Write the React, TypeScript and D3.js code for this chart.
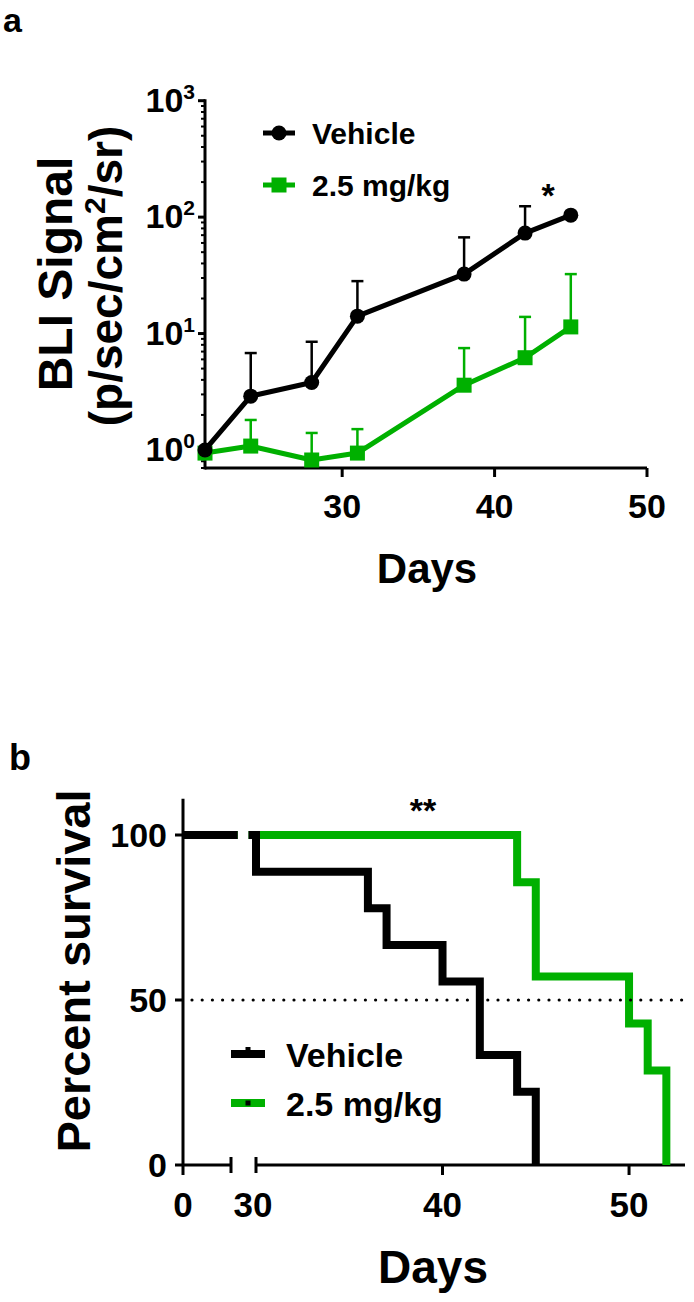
import React from 'react'
import * as d3 from 'd3'

// panel a: BLI signal over time (mean, upper error end)
const bliDays = [21, 24, 28, 31, 38, 42, 45]
const vehicleBli = [1.0, 2.9, 3.8, 14.1, 32.4, 72.9, 104]
const vehicleBliErr = [1.0, 6.8, 8.5, 28.2, 67, 124, 104]
const drugBli = [0.94, 1.08, 0.82, 0.94, 3.6, 6.2, 11.4]
const drugBliErr = [0.94, 1.81, 1.4, 1.51, 7.5, 13.9, 32.4]
const bliTicksX = [30, 40, 50]
const bliTicksY = [1, 10, 100, 1000]

// panel b: Kaplan-Meier survival
const survDaysVehicle = [0, 30, 36, 37, 40, 42, 44, 45]
const survVehicle = [100, 88.9, 77.8, 66.7, 55.6, 33.3, 22.2, 0]
const survDaysDrug = [0, 44, 45, 50, 51, 52]
const survDrug = [100, 85.7, 57.1, 42.9, 28.6, 0]
const survTicksY = [0, 50, 100]
const survTicksX = [40, 50]

const legendLabels = ['Vehicle', '2.5 mg/kg']

const BLACK = '#000000'
const GREEN = '#00b000'
const FONT = "'Liberation Sans', Arial, Helvetica, sans-serif"

function drawChart(svgRef: React.RefObject<SVGSVGElement>) {
  const svg = d3.select(svgRef.current)
    .attr('width', 694)
    .attr('height', 1302)
    .attr('font-family', FONT)
    .attr('font-weight', 'bold')
  svg.selectAll('*').remove()

  svg.append('text').attr('x', 3).attr('y', 32).attr('font-size', 34).text('a')
  svg.append('text').attr('x', 9).attr('y', 770).attr('font-size', 36).text('b')

  // ---------- panel a ----------
  const xA = d3.scaleLinear().domain([21, 50]).range([205, 647])
  const yA = d3.scaleLog().domain([0.7, 1000]).range([468, 100.7])
  const a = svg.append('g')

  const axisA = a.append('g').attr('stroke', BLACK).attr('stroke-width', 3)
  axisA.append('line')
    .attr('x1', xA(21)).attr('x2', xA(21))
    .attr('y1', yA(1000) - 1.5).attr('y2', yA(0.7) + 1.5)
  axisA.append('line')
    .attr('x1', xA(21)).attr('x2', xA(50))
    .attr('y1', yA(0.7)).attr('y2', yA(0.7))

  const minor: number[] = []
  ;[-1, 0, 1, 2].forEach(k => d3.range(2, 10).forEach(m => {
    const v = m * Math.pow(10, k)
    if (v > 0.7 && v < 1000) minor.push(v)
  }))
  axisA.selectAll('line.minor').data(minor).join('line')
    .attr('class', 'minor')
    .attr('stroke-width', 2)
    .attr('x1', xA(21) - 4).attr('x2', xA(21))
    .attr('y1', d => yA(d)).attr('y2', d => yA(d))
  axisA.selectAll('line.major').data(bliTicksY).join('line')
    .attr('class', 'major')
    .attr('x1', xA(21) - 7).attr('x2', xA(21))
    .attr('y1', d => yA(d)).attr('y2', d => yA(d))
  axisA.selectAll('line.xt').data(bliTicksX).join('line')
    .attr('class', 'xt')
    .attr('x1', d => xA(d)).attr('x2', d => xA(d))
    .attr('y1', yA(0.7)).attr('y2', yA(0.7) + 9)

  const yLab = a.selectAll('text.yl').data(bliTicksY).join('text')
    .attr('class', 'yl')
    .attr('x', xA(21) - 10)
    .attr('y', d => yA(d) + 11)
    .attr('text-anchor', 'end')
    .attr('font-size', 34)
  yLab.append('tspan').text('10')
  yLab.append('tspan').attr('font-size', 21).attr('dy', -13).text(d => String(Math.round(Math.log10(d))))

  a.selectAll('text.xl').data(bliTicksX).join('text')
    .attr('class', 'xl')
    .attr('x', d => xA(d))
    .attr('y', 518)
    .attr('text-anchor', 'middle')
    .attr('font-size', 34)
    .text(d => d)

  a.append('text').attr('x', 427).attr('y', 583).attr('text-anchor', 'middle')
    .attr('font-size', 42).text('Days')

  a.append('text').attr('transform', 'translate(72,274) rotate(-90)')
    .attr('text-anchor', 'middle').attr('font-size', 48).text('BLI Signal')
  const unit = a.append('text').attr('transform', 'translate(122,276) rotate(-90)')
    .attr('text-anchor', 'middle').attr('font-size', 46)
  unit.append('tspan').text('(p/sec/cm')
  unit.append('tspan').attr('font-size', 30).attr('dy', -17).text('2')
  unit.append('tspan').attr('dy', 17).text('/sr)')

  const series = [
    { vals: drugBli, err: drugBliErr, color: GREEN, shape: 'square' },
    { vals: vehicleBli, err: vehicleBliErr, color: BLACK, shape: 'circle' },
  ]
  const line = d3.line<number>().x((_, i) => xA(bliDays[i])).y(d => yA(d))

  series.forEach(s => {
    const g = a.append('g')
    const idx = d3.range(bliDays.length).filter(i => s.err[i] > s.vals[i] * 1.05)
    g.selectAll('line.eb').data(idx).join('line')
      .attr('stroke', s.color).attr('stroke-width', 2.5)
      .attr('x1', i => xA(bliDays[i])).attr('x2', i => xA(bliDays[i]))
      .attr('y1', i => yA(s.vals[i])).attr('y2', i => yA(s.err[i]))
    g.selectAll('line.cap').data(idx).join('line')
      .attr('stroke', s.color).attr('stroke-width', 2.5)
      .attr('x1', i => xA(bliDays[i]) - 6).attr('x2', i => xA(bliDays[i]) + 6)
      .attr('y1', i => yA(s.err[i])).attr('y2', i => yA(s.err[i]))
    g.append('path')
      .attr('d', line(s.vals))
      .attr('fill', 'none').attr('stroke', s.color).attr('stroke-width', 5)
      .attr('stroke-linejoin', 'round')
    if (s.shape === 'circle') {
      g.selectAll('circle').data(s.vals).join('circle')
        .attr('cx', (_, i) => xA(bliDays[i])).attr('cy', d => yA(d)).attr('r', 7.5)
        .attr('fill', s.color)
    } else {
      g.selectAll('rect').data(s.vals).join('rect')
        .attr('x', (_, i) => xA(bliDays[i]) - 7.5).attr('y', d => yA(d) - 7.5)
        .attr('width', 15).attr('height', 15)
        .attr('fill', s.color)
    }
  })

  // legend a
  const legA = a.append('g')
  ;[{ c: BLACK, y: 133, shape: 'circle' }, { c: GREEN, y: 185, shape: 'square' }].forEach((l, i) => {
    legA.append('line').attr('x1', 263).attr('x2', 295).attr('y1', l.y).attr('y2', l.y)
      .attr('stroke', l.c).attr('stroke-width', 5)
    if (l.shape === 'circle') legA.append('circle').attr('cx', 279).attr('cy', l.y).attr('r', 7.5).attr('fill', l.c)
    else legA.append('rect').attr('x', 271.5).attr('y', l.y - 7.5).attr('width', 15).attr('height', 15).attr('fill', l.c)
    legA.append('text').attr('x', 312).attr('y', l.y + 11).attr('font-size', 30).text(legendLabels[i])
  })

  a.append('text').attr('x', 548).attr('y', 207).attr('text-anchor', 'middle')
    .attr('font-size', 34).text('*')

  // ---------- panel b ----------
  const yB = d3.scaleLinear().domain([0, 100]).range([1165, 835])
  const xB1 = d3.scaleLinear().domain([0, 5]).range([183, 231])
  const xB2 = d3.scaleLinear().domain([30, 53]).range([256, 685])
  const seg1LineEnd = 5.7
  const seg2LineStart = 29.6
  const b = svg.append('g')

  const axisB = b.append('g').attr('stroke', BLACK).attr('stroke-width', 3)
  axisB.append('line').attr('x1', xB1(0)).attr('x2', xB1(0))
    .attr('y1', yB(111)).attr('y2', yB(0) + 10)
  axisB.selectAll('line.yt').data(survTicksY).join('line')
    .attr('class', 'yt')
    .attr('x1', xB1(0) - 8).attr('x2', xB1(0))
    .attr('y1', d => yB(d)).attr('y2', d => yB(d))
  axisB.append('line').attr('x1', xB1(0)).attr('x2', xB1(5))
    .attr('y1', yB(0)).attr('y2', yB(0))
  axisB.append('line').attr('x1', xB2(30)).attr('x2', xB2(53))
    .attr('y1', yB(0)).attr('y2', yB(0))
  ;[xB1(5), xB2(30)].forEach(x => {
    axisB.append('line').attr('x1', x).attr('x2', x)
      .attr('y1', yB(0) - 8).attr('y2', yB(0) + 8)
  })
  axisB.selectAll('line.xt').data(survTicksX).join('line')
    .attr('class', 'xt')
    .attr('x1', d => xB2(d)).attr('x2', d => xB2(d))
    .attr('y1', yB(0)).attr('y2', yB(0) + 10)

  b.selectAll('text.yl').data(survTicksY).join('text')
    .attr('class', 'yl')
    .attr('x', xB1(0) - 16).attr('y', d => yB(d) + 12)
    .attr('text-anchor', 'end').attr('font-size', 34)
    .text(d => d)

  const xLabs = [{ v: 0, x: xB1(0) }, { v: 30, x: xB2(30) - 3 }, ...survTicksX.map(v => ({ v, x: xB2(v) }))]
  b.selectAll('text.xl').data(xLabs).join('text')
    .attr('class', 'xl')
    .attr('x', d => d.x).attr('y', 1217)
    .attr('text-anchor', 'middle').attr('font-size', 35)
    .text(d => d.v)

  b.append('text').attr('x', 433).attr('y', 1283).attr('text-anchor', 'middle')
    .attr('font-size', 46).text('Days')
  b.append('text').attr('transform', 'translate(90,971) rotate(-90)')
    .attr('text-anchor', 'middle').attr('font-size', 47).text('Percent survival')

  function stepPoints(days: number[], vals: number[], lo: number, hi: number) {
    let start = vals[0]
    days.forEach((d, i) => { if (d <= lo) start = vals[i] })
    const pts: [number, number][] = [[lo, start]]
    days.forEach((d, i) => { if (d > lo && d <= hi) pts.push([d, vals[i]]) })
    const last = pts[pts.length - 1]
    if (last[1] > 0 && last[0] < hi) pts.push([hi, last[1]])
    return pts
  }

  const surv = [
    { days: survDaysDrug, vals: survDrug, color: GREEN },
    { days: survDaysVehicle, vals: survVehicle, color: BLACK },
  ]
  surv.forEach(s => {
    const p1 = stepPoints(s.days, s.vals, 0, seg1LineEnd)
    const p2 = stepPoints(s.days, s.vals, seg2LineStart, 53)
    const l1 = d3.line<[number, number]>().x(d => xB1(d[0])).y(d => yB(d[1])).curve(d3.curveStepAfter)
    const l2 = d3.line<[number, number]>().x(d => xB2(d[0])).y(d => yB(d[1])).curve(d3.curveStepAfter)
    ;[l1(p1), l2(p2)].forEach(d => {
      b.append('path').attr('d', d)
        .attr('fill', 'none').attr('stroke', s.color).attr('stroke-width', 8)
        .attr('stroke-linejoin', 'miter')
    })
  })

  b.append('line')
    .attr('x1', xB1(0) + 9).attr('x2', xB2(53))
    .attr('y1', yB(50)).attr('y2', yB(50))
    .attr('stroke', BLACK).attr('stroke-width', 3.2)
    .attr('stroke-linecap', 'round')
    .attr('stroke-dasharray', '0 10.2')

  // legend b
  const legB = b.append('g')
  ;[{ c: BLACK, y: 1054, dot: -7 }, { c: GREEN, y: 1103, dot: -2.5 }].forEach((l, i) => {
    legB.append('line').attr('x1', 231).attr('x2', 265).attr('y1', l.y).attr('y2', l.y)
      .attr('stroke', l.c).attr('stroke-width', 8)
    legB.append('rect').attr('x', 245.5).attr('y', l.y + l.dot).attr('width', 5).attr('height', 5)
      .attr('fill', BLACK)
    legB.append('text').attr('x', 286).attr('y', l.y + 13).attr('font-size', 34).text(legendLabels[i])
  })

  b.append('text').attr('x', 423).attr('y', 822).attr('text-anchor', 'middle')
    .attr('font-size', 34).text('**')

  return svg.node()
}

const App: React.FunctionComponent = () => {
  const svg = React.useRef<SVGSVGElement>(null)

  React.useEffect(() => {
    document.body.style.margin = '0'
    drawChart(svg)
  }, [svg])

  return (
    <div id="chart">
      <svg ref={svg} style={{ display: 'block', background: '#fff' }} />
    </div>
  )
}

export default App
